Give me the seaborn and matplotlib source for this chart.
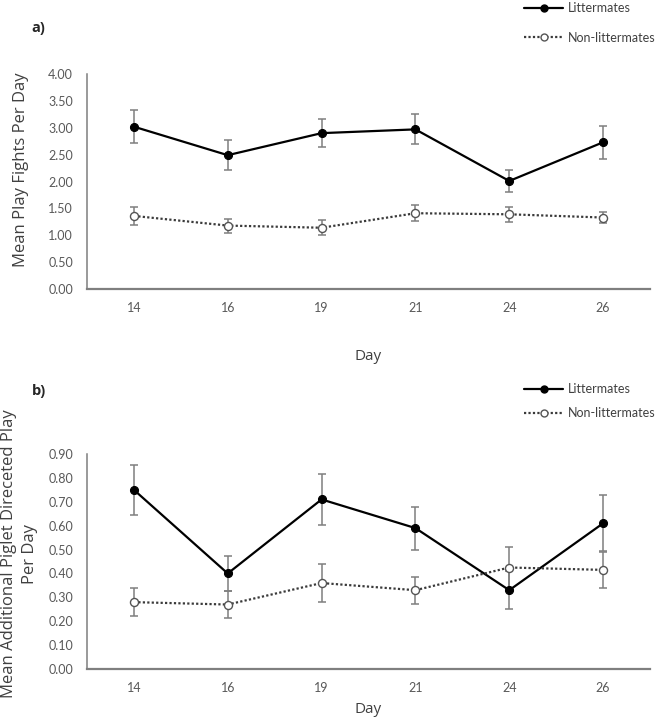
import numpy as np
import pandas as pd
import matplotlib
matplotlib.use('Agg')
import matplotlib.pyplot as plt
from matplotlib.lines import Line2D
import seaborn as sns

# values
days = ['14', '16', '19', '21', '24', '26']

fights_lit = [3.02, 2.49, 2.90, 2.97, 2.01, 2.73]
fights_lit_err = [0.31, 0.28, 0.26, 0.28, 0.21, 0.31]
fights_non = [1.36, 1.18, 1.14, 1.41, 1.39, 1.33]
fights_non_err = [0.17, 0.13, 0.14, 0.15, 0.14, 0.11]

piglet_lit = [0.75, 0.40, 0.71, 0.59, 0.33, 0.61]
piglet_lit_err = [0.105, 0.075, 0.107, 0.09, 0.08, 0.118]
piglet_non = [0.28, 0.27, 0.36, 0.33, 0.425, 0.415]
piglet_non_err = [0.058, 0.058, 0.08, 0.056, 0.085, 0.075]

sns.set_style('white')
plt.rcParams['font.family'] = ['Open Sans', 'DejaVu Sans']

GREY = '#7f7f7f'
TICK_GREY = '#595959'


def draw_panel(ax, lit, lit_err, non, non_err, ymax, step, ylabel, label_x, label_y, xlabel_y):
    pos = np.arange(len(days))
    df = pd.DataFrame({'pos': pos, 'lit': lit, 'non': non})
    # error bars first so markers sit on top
    ax.errorbar(pos, lit, yerr=lit_err, fmt='none', ecolor=GREY, elinewidth=1.1,
                capsize=2.6, capthick=1.1, zorder=1)
    ax.errorbar(pos, non, yerr=non_err, fmt='none', ecolor=GREY, elinewidth=1.1,
                capsize=2.6, capthick=1.1, zorder=1)
    sns.lineplot(data=df, x='pos', y='lit', ax=ax, color='black', linewidth=1.6,
                 marker='o', markersize=5.8, markerfacecolor='black',
                 markeredgecolor='black', zorder=3)
    sns.lineplot(data=df, x='pos', y='non', ax=ax, color='#3a3a3a', linewidth=1.6,
                 linestyle=(0, (1, 1)), marker='o', markersize=5.8,
                 markerfacecolor='white', markeredgecolor='#555555',
                 markeredgewidth=1.0, zorder=3)
    ax.set_xlim(-0.5, len(days) - 0.5)
    ax.set_ylim(0, ymax)
    ax.set_xticks(pos)
    ax.set_xticklabels(days)
    yt = np.arange(0, ymax + step / 2, step)
    ax.set_yticks(yt)
    ax.set_yticklabels(['%.2f' % v for v in yt])
    ax.tick_params(axis='both', length=0, labelsize=9, labelcolor=TICK_GREY)
    ax.tick_params(axis='y', pad=10)
    ax.tick_params(axis='x', pad=9)
    for t in ax.get_xticklabels() + ax.get_yticklabels():
        t.set_family(['Lato', 'DejaVu Sans'])
    for s in ['top', 'right']:
        ax.spines[s].set_visible(False)
    ax.spines['left'].set_color(GREY)
    ax.spines['left'].set_linewidth(1.1)
    ax.spines['bottom'].set_color(GREY)
    ax.spines['bottom'].set_linewidth(1.6)
    ax.set_ylabel(ylabel, fontsize=12, color='#404040', linespacing=1.4)
    ax.yaxis.label.set_va('center')
    ax.yaxis.set_label_coords(label_x, label_y)
    ax.set_xlabel('Day', fontsize=11, color='#404040')
    ax.xaxis.label.set_va('center')
    ax.xaxis.set_label_coords(0.5, xlabel_y)


def add_legend(fig, y, spacing):
    handles = [
        Line2D([], [], color='black', linewidth=1.6, marker='o', markersize=5,
               markerfacecolor='black'),
        Line2D([], [], color='#3a3a3a', linewidth=1.6, linestyle=(0, (1, 1)),
               marker='o', markersize=5, markerfacecolor='white',
               markeredgecolor='#555555'),
    ]
    leg = fig.legend(handles, ['Littermates', 'Non-littermates'], loc='upper left',
                     bbox_to_anchor=(0.792, y), frameon=False, fontsize=9,
                     handlelength=3.1, handletextpad=0.35, labelspacing=spacing,
                     borderpad=0, borderaxespad=0)
    for t in leg.get_texts():
        t.set_family(['Lato', 'DejaVu Sans'])
        t.set_color('#404040')


fig = plt.figure(figsize=(6.62, 7.2), dpi=100)
ax_a = fig.add_axes([0.1314, 0.5986, 0.8505, 0.2986])
ax_b = fig.add_axes([0.1314, 0.0708, 0.8505, 0.2986])

draw_panel(ax_a, fights_lit, fights_lit_err, fights_non, fights_non_err, 4.0, 0.5,
           'Mean Play Fights Per Day', -0.117, 0.553, -0.316)
draw_panel(ax_b, piglet_lit, piglet_lit_err, piglet_non, piglet_non_err, 0.9, 0.1,
           'Mean Additional Piglet Direceted Play\nPer Day', -0.12, 0.535, -0.19)

add_legend(fig, 0.997, 1.4)
add_legend(fig, 0.468, 0.95)

fig.text(0.048, 1 - 28 / 720, 'a)', fontsize=10.5, fontweight='bold', va='center')
fig.text(0.048, 1 - 391 / 720, 'b)', fontsize=10.5, fontweight='bold', va='center')

fig.savefig('out.png', dpi=100)
